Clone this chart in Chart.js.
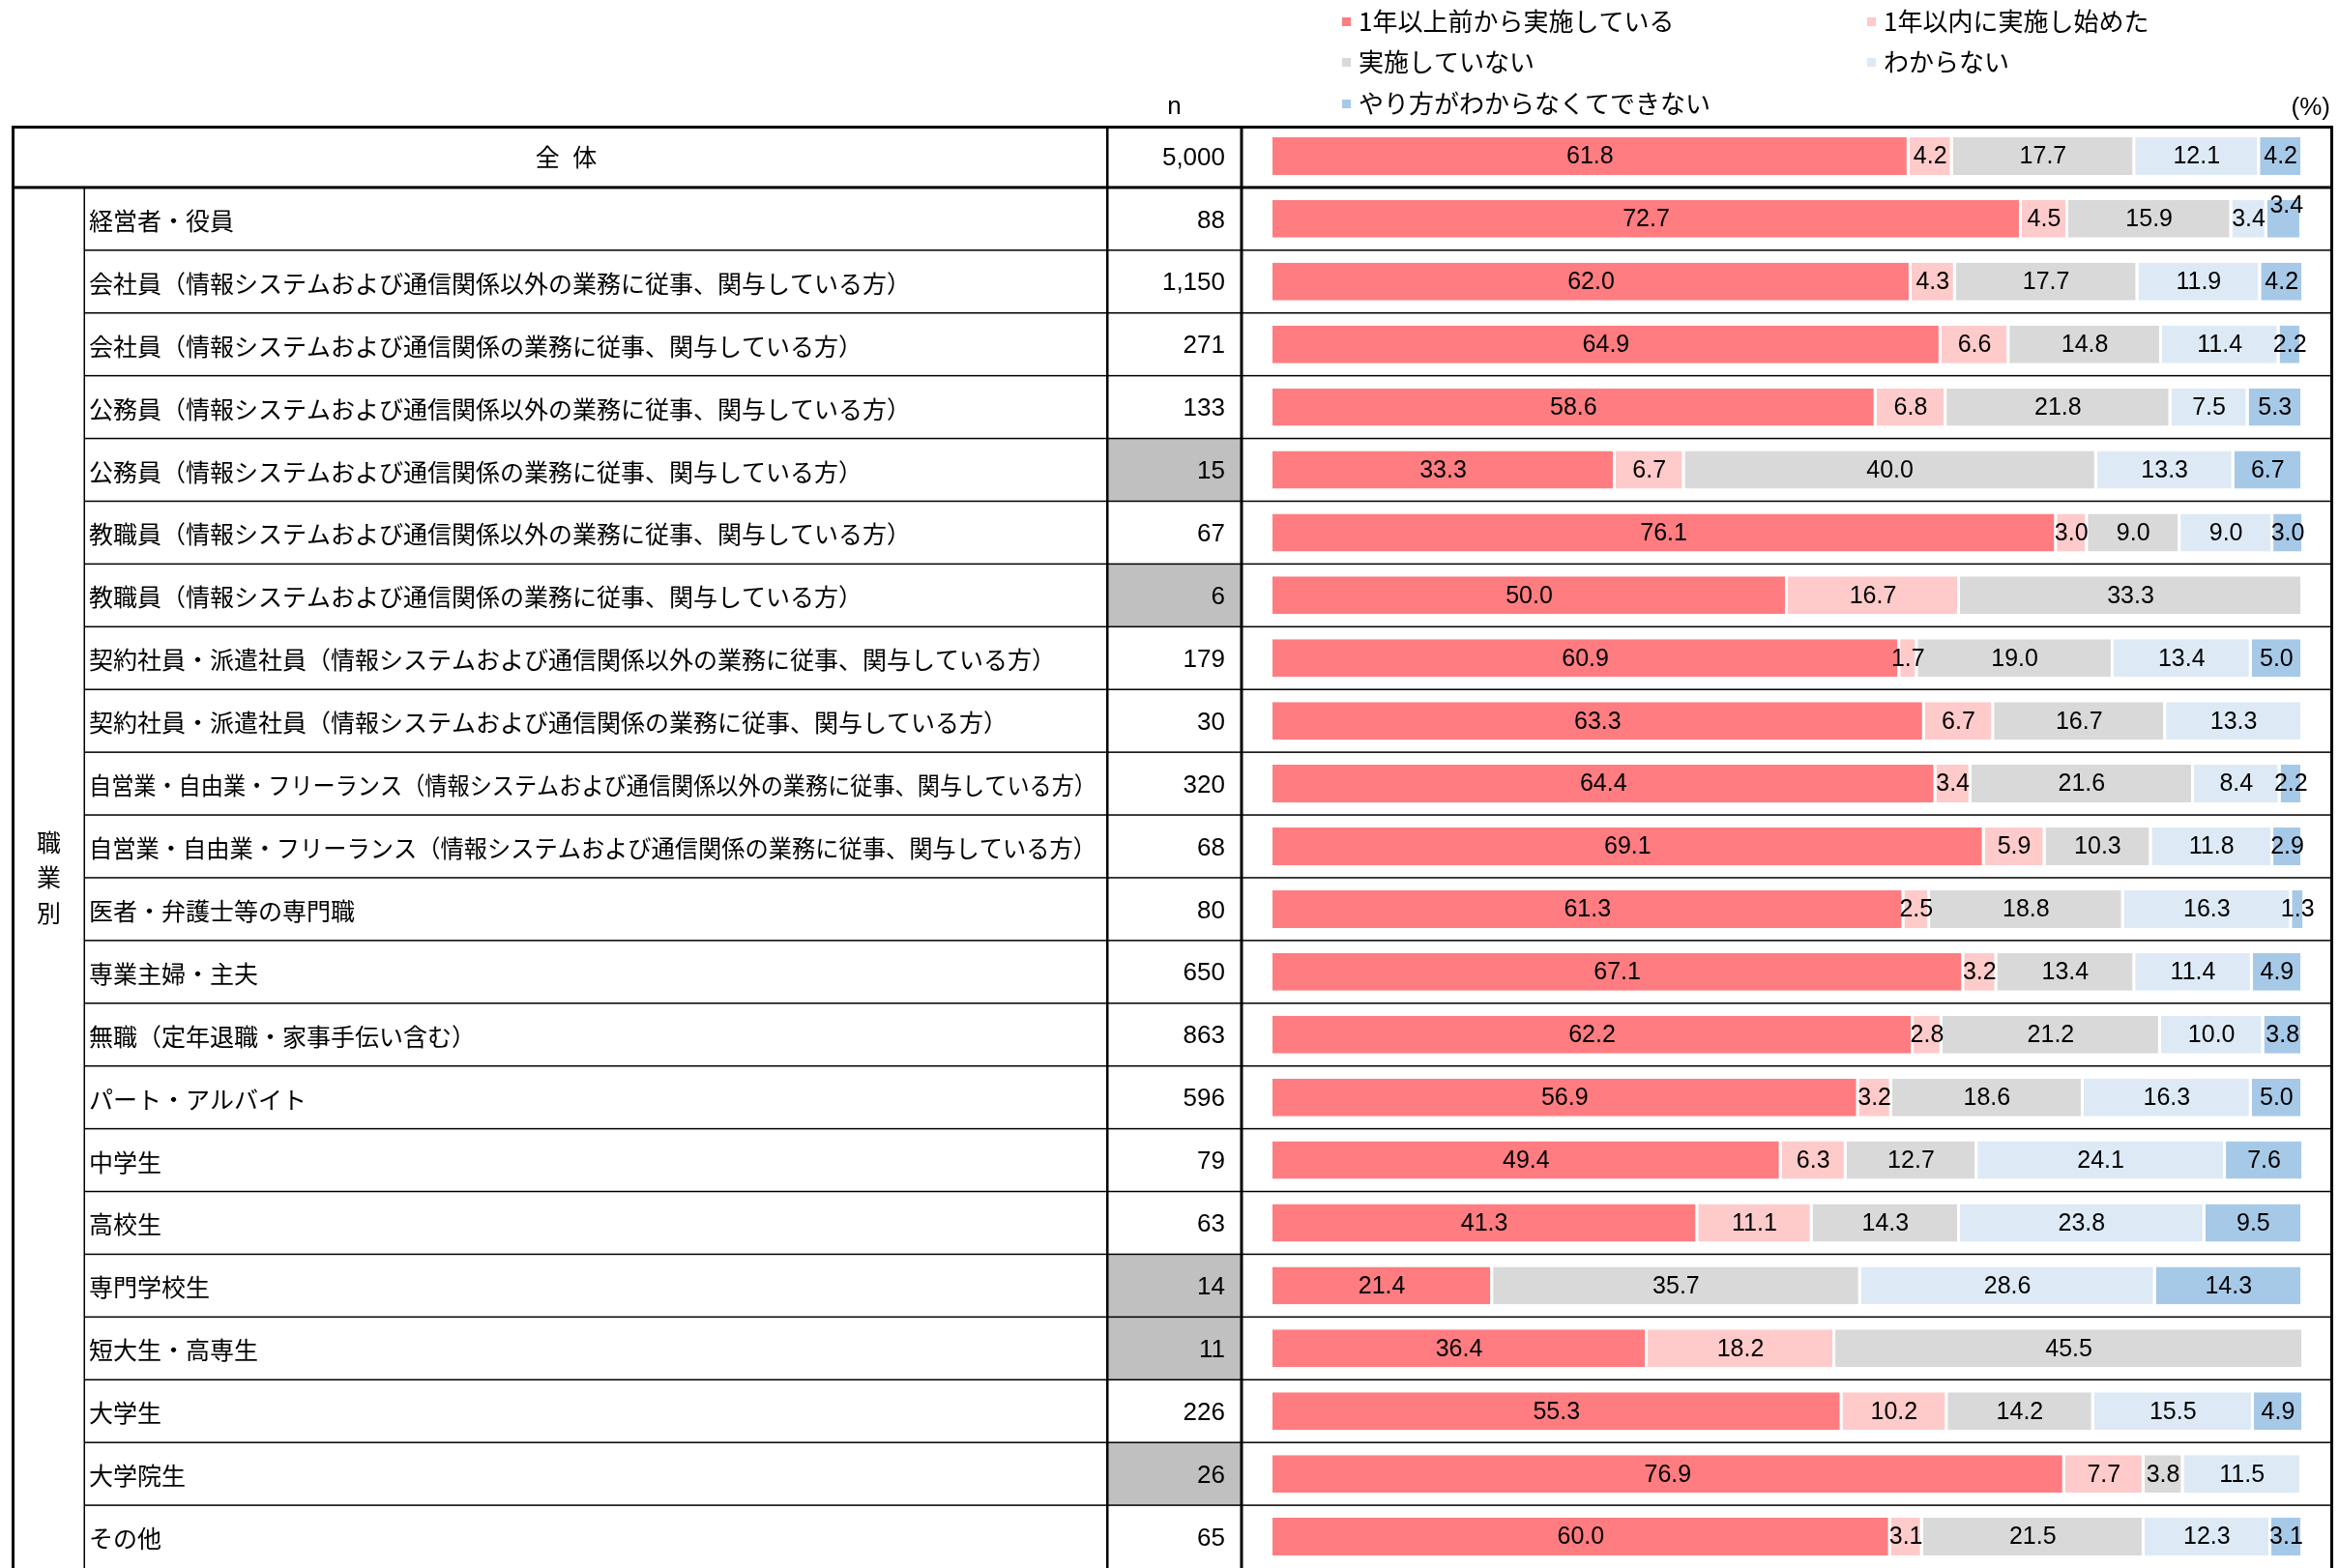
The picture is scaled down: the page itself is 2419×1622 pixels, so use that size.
<!DOCTYPE html>
<html><head><meta charset="utf-8">
<script src="https://cdn.jsdelivr.net/npm/chart.js@4.4.0/dist/chart.umd.min.js"></script>
<style>html,body{margin:0;padding:0;background:#fff;overflow:hidden}canvas{display:block}</style>
</head><body>
<canvas id="c" width="2419" height="1622"></canvas>
<script>
const categories = ['全 体','経営者・役員',
 '会社員（情報システムおよび通信関係以外の業務に従事、関与している方）',
 '会社員（情報システムおよび通信関係の業務に従事、関与している方）',
 '公務員（情報システムおよび通信関係以外の業務に従事、関与している方）',
 '公務員（情報システムおよび通信関係の業務に従事、関与している方）',
 '教職員（情報システムおよび通信関係以外の業務に従事、関与している方）',
 '教職員（情報システムおよび通信関係の業務に従事、関与している方）',
 '契約社員・派遣社員（情報システムおよび通信関係以外の業務に従事、関与している方）',
 '契約社員・派遣社員（情報システムおよび通信関係の業務に従事、関与している方）',
 '自営業・自由業・フリーランス（情報システムおよび通信関係以外の業務に従事、関与している方）',
 '自営業・自由業・フリーランス（情報システムおよび通信関係の業務に従事、関与している方）',
 '医者・弁護士等の専門職','専業主婦・主夫','無職（定年退職・家事手伝い含む）','パート・アルバイト',
 '中学生','高校生','専門学校生','短大生・高専生','大学生','大学院生','その他'];
const nValues = [5000,88,1150,271,133,15,67,6,179,30,320,68,80,650,863,596,79,63,14,11,226,26,65];
const seriesNames = ['1年以上前から実施している','1年以内に実施し始めた','実施していない','わからない','やり方がわからなくてできない'];
const s1 = [61.8,72.7,62.0,64.9,58.6,33.3,76.1,50.0,60.9,63.3,64.4,69.1,61.3,67.1,62.2,56.9,49.4,41.3,21.4,36.4,55.3,76.9,60.0];
const s2 = [4.2,4.5,4.3,6.6,6.8,6.7,3.0,16.7,1.7,6.7,3.4,5.9,2.5,3.2,2.8,3.2,6.3,11.1,0,18.2,10.2,7.7,3.1];
const s3 = [17.7,15.9,17.7,14.8,21.8,40.0,9.0,33.3,19.0,16.7,21.6,10.3,18.8,13.4,21.2,18.6,12.7,14.3,35.7,45.5,14.2,3.8,21.5];
const s4 = [12.1,3.4,11.9,11.4,7.5,13.3,9.0,0,13.4,13.3,8.4,11.8,16.3,11.4,10.0,16.3,24.1,23.8,28.6,0,15.5,11.5,12.3];
const s5 = [4.2,3.4,4.2,2.2,5.3,6.7,3.0,0,5.0,0,2.2,2.9,1.3,4.9,3.8,5.0,7.6,9.5,14.3,0,4.9,0,3.1];
const groupLabel = '職業別';
const nHeader = 'n';
const unitLabel = '(%)';

const colors = ['#FF7C80','#FFCACA','#D9D9D9','#DDEAF6','#A7C9E8'];
const JP = '"Noto Sans CJK JP", "Noto Sans", sans-serif';
const NUM = '"Liberation Sans", Arial, sans-serif';

const X_LEFT = 12, X_GRP = 87, X_N = 1145, X_BAR = 1284, X_RIGHT = 2413, Y_TOP = 130;

function rowGeom(chart){
  const a = chart.chartArea; const band = (a.bottom - a.top) / categories.length;
  return {a, band};
}

const tablePlugin = {
  id: 'tableDeco',
  beforeDraw(chart){
    const ctx = chart.ctx; ctx.save(); ctx.fillStyle = '#fff'; ctx.fillRect(0,0,chart.width,chart.height); ctx.restore();
  },
  beforeDatasetsDraw(chart){
    const ctx = chart.ctx; const {a, band} = rowGeom(chart); const ys = chart.scales.y;
    ctx.save(); ctx.fillStyle = '#C0C0C0';
    nValues.forEach((n,i)=>{ if(n < 30){ const cy = ys.getPixelForValue(i); ctx.fillRect(X_N, cy - band/2, X_BAR - X_N, band); } });
    ctx.restore();
  },
  afterDatasetsDraw(chart){
    const ctx = chart.ctx; ctx.save();
    ctx.font = '25px ' + NUM; ctx.fillStyle = '#000'; ctx.textAlign = 'center'; ctx.textBaseline = 'middle';
    const n = categories.length;
    for(let i = 0; i < n; i++){
      let prev = null;
      chart.data.datasets.forEach((ds, di)=>{
        const v = ds.data[i]; if(!v) return;
        const bar = chart.getDatasetMeta(di).data[i];
        const txt = v.toFixed(1);
        const w = ctx.measureText(txt).width;
        let x = (bar.x + bar.base)/2 - 1, y = bar.y + 1;
        if(prev && !prev.raised && (x - w/2) < (prev.x + prev.w/2) + 6){ y -= 14; x += 3; prev = {x, w, raised:true}; }
        else prev = {x, w, raised:false};
        ctx.fillText(txt, x, y);
      });
    }
    ctx.restore();
  },
  afterDraw(chart){
    const ctx = chart.ctx; const {a, band} = rowGeom(chart); const ys = chart.scales.y;
    const H = chart.height;
    ctx.save(); ctx.fillStyle = '#000';
    ctx.fillRect(X_LEFT, Y_TOP, X_RIGHT - X_LEFT, 3);
    ctx.fillRect(X_LEFT, Y_TOP, 3, H - Y_TOP);
    ctx.fillRect(X_N - 1, Y_TOP, 2.5, H - Y_TOP);
    ctx.fillRect(X_BAR - 1.5, Y_TOP, 3, H - Y_TOP);
    ctx.fillRect(X_RIGHT - 3, Y_TOP, 3, H - Y_TOP);
    const yFirst = a.top + band;
    ctx.fillRect(X_GRP - 0.5, yFirst, 1.5, H - yFirst);
    for(let k = 1; k < categories.length; k++){
      const yb = a.top + k*band;
      if(k === 1) ctx.fillRect(X_LEFT, yb - 1.5, X_RIGHT - X_LEFT, 3);
      else ctx.fillRect(X_GRP, yb - 0.75, X_RIGHT - X_GRP, 1.5);
    }
    ctx.textBaseline = 'middle';
    categories.forEach((c,i)=>{
      const cy = ys.getPixelForValue(i);
      ctx.font = '25px ' + JP;
      if(i === 0){
        ctx.textAlign = 'center';
        if('letterSpacing' in ctx) ctx.letterSpacing = '4px';
        ctx.fillText(c, (X_LEFT + X_N)/2 + 9, cy + 1);
        if('letterSpacing' in ctx) ctx.letterSpacing = '0px';
      }
      else { ctx.textAlign = 'left'; ctx.fillText(c, X_GRP + 5, cy + 2, X_N - X_GRP - 16); }
      ctx.font = '26px ' + NUM; ctx.textAlign = 'right';
      ctx.fillText(nValues[i].toLocaleString('en-US'), X_BAR - 17, cy + 2);
    });
    ctx.font = '25px ' + JP; ctx.textAlign = 'center';
    const gy = (yFirst + a.bottom)/2; const chars = [...groupLabel];
    chars.forEach((ch, j)=>{ ctx.fillText(ch, (X_LEFT + X_GRP)/2 + 1, gy + (j - (chars.length-1)/2)*36.5); });
    ctx.font = '26px ' + NUM; ctx.textAlign = 'center';
    ctx.fillText(nHeader, (X_N + X_BAR)/2, 111);
    ctx.textAlign = 'right'; ctx.fillText(unitLabel, 2410, 112);
    const legX = [1388, 1931], legY = [22, 64, 107];
    chart.data.datasets.forEach((ds, di)=>{
      const col = di % 2, row = Math.floor(di/2);
      const lx = legX[col], ly = legY[row];
      ctx.fillStyle = ds.backgroundColor; ctx.fillRect(lx, ly - 4, 9, 9);
      ctx.fillStyle = '#000'; ctx.font = '26px ' + JP; ctx.textAlign = 'left';
      ctx.fillText(ds.label, lx + 17, ly);
    });
    ctx.restore();
  }
};

const datasets = [s1,s2,s3,s4,s5].map((d,i)=>({
  label: seriesNames[i], data: d, backgroundColor: colors[i],
  borderColor: '#FFFFFF', borderWidth: {top:0, bottom:0, left:0, right:3}, borderSkipped: false,
  barPercentage: 0.6, categoryPercentage: 1
}));

new Chart(document.getElementById('c'), {
  type: 'bar',
  data: { labels: categories, datasets },
  options: {
    indexAxis: 'y', responsive: false, devicePixelRatio: 1, animation: false,
    layout: { padding: { left: 1316, right: 37, top: 129, bottom: 0 } },
    scales: {
      x: { stacked: true, min: 0, max: 100, display: false },
      y: { stacked: true, display: false }
    },
    plugins: { legend: { display: false }, tooltip: { enabled: false } }
  },
  plugins: [tablePlugin]
});
</script>
</body></html>
